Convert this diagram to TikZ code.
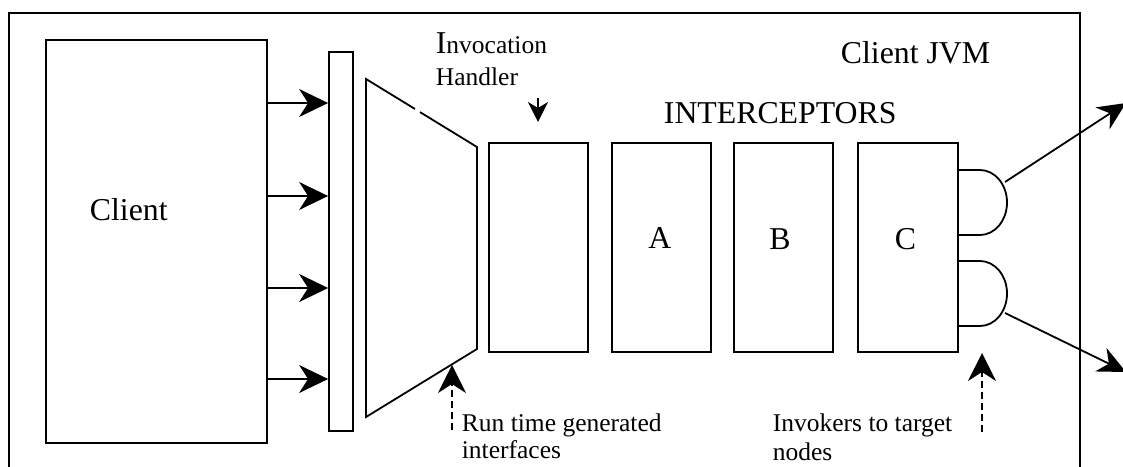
\documentclass[tikz,border=0pt]{standalone}
\usepackage{fontspec}
\setmainfont{Liberation Serif}
\usetikzlibrary{arrows.meta}
\begin{document}
\begin{tikzpicture}[x=1pt,y=-1pt,line width=1.8pt,line join=miter]
\tikzset{
 frame/.style={draw, line width=1.8pt, inner sep=0pt},
 bigfont/.style={font=\fontsize{31.8}{38}\selectfont},
 smallfont/.style={font=\fontsize{25.5}{30}\selectfont},
 txt/.style={inner sep=0pt, anchor=base west},
 bigarrow/.style={-{Stealth[length=29pt,width=28pt,inset=9pt]}},
 smallhead/.style={-{Stealth[length=20pt,width=20pt,inset=6pt]}},
 dasharrow/.style={dash pattern=on 7pt off 4pt, -{Stealth[length=28pt,width=28pt,inset=9pt]}},
}
\clip (0,0) rectangle (1123,466);
% outer frame (Client JVM)
\node[frame, minimum width=1071pt, minimum height=470pt] (jvm) at (544.5,248) {};
% client
\node[frame, minimum width=221pt, minimum height=403pt] (client) at (156.5,241.5) {};
\node[txt, bigfont] (clientlbl) at (89,220) {Client};
% bar
\node[frame, minimum width=24pt, minimum height=379pt] (bar) at (341,241.5) {};
% arrows client -> bar
\foreach \yy in {103,196,288,379}{
  \draw[bigarrow] (client.east |- 0,\yy) -- (bar.west |- 0,\yy);
}
% trapezoid (proxy)
\draw (415,109) -- (366,79) -- (366,417) -- (477,349) -- (477,147) -- (420,112.1);
% boxes
\node[frame, minimum width=99pt, minimum height=209pt] (ih) at (538.5,247.5) {};
\node[frame, minimum width=99pt, minimum height=209pt] (boxA) at (661.5,247.5) {};
\node[frame, minimum width=99pt, minimum height=209pt] (boxB) at (783.5,247.5) {};
\node[frame, minimum width=100pt, minimum height=209pt] (boxC) at (908,247.5) {};
\node[txt, bigfont] (lblA) at (647.5,248) {A};
\node[txt, bigfont] (lblB) at (768.5,249) {B};
\node[txt, bigfont] (lblC) at (894,249) {C};
% invokers (D shapes)
\draw (958,170) -- (980,170) .. controls (994.9,170) and (1007,184.6) .. (1007,202.5)
      .. controls (1007,220.4) and (994.9,235) .. (980,235) -- (958,235);
\draw (958,261) -- (980,261) .. controls (994.9,261) and (1007,275.6) .. (1007,293.5)
      .. controls (1007,311.4) and (994.9,326) .. (980,326) -- (958,326);
\coordinate (inv1) at (1005,182);
\coordinate (inv2) at (1005,313);
\coordinate (out1) at (1126,103);
\coordinate (out2) at (1126,372);
\draw[-{Stealth[length=28pt,width=26pt,inset=9pt]}] (inv1) -- (out1);
\draw[-{Stealth[length=28pt,width=26pt,inset=9pt]}] (inv2) -- (out2);
% texts
\node[txt, smallfont] (invlbl) at (435,53) {{\fontsize{31.8}{38}\selectfont I}nvocation};
\node[txt, smallfont] (handlbl) at (435,85) {Handler};
\node[txt, bigfont] (jvmlbl) at (840,63) {Client JVM};
\node[txt, bigfont] (intlbl) at (663,123) {INTERCEPTORS};
\node[txt, smallfont] (rt1) at (461,431) {Run time generated};
\node[txt, smallfont] (rt2) at (461,458) {interfaces};
\node[txt, smallfont] (ik1) at (772,431) {Invokers to target};
\node[txt, smallfont] (ik2) at (772,460) {nodes};
% pointer arrows
\coordinate (hTail) at (538,98);
\coordinate (hTip) at (538,122);
\draw[smallhead] (hTail) -- (hTip);
\coordinate (rtTail) at (452,430);
\coordinate (rtTip) at (452,365);
\draw[dasharrow] (rtTail) -- (rtTip);
\coordinate (ikTail) at (982,432);
\coordinate (ikTip) at (982,353);
\draw[dasharrow] (ikTail) -- (ikTip);
\end{tikzpicture}
\end{document}
